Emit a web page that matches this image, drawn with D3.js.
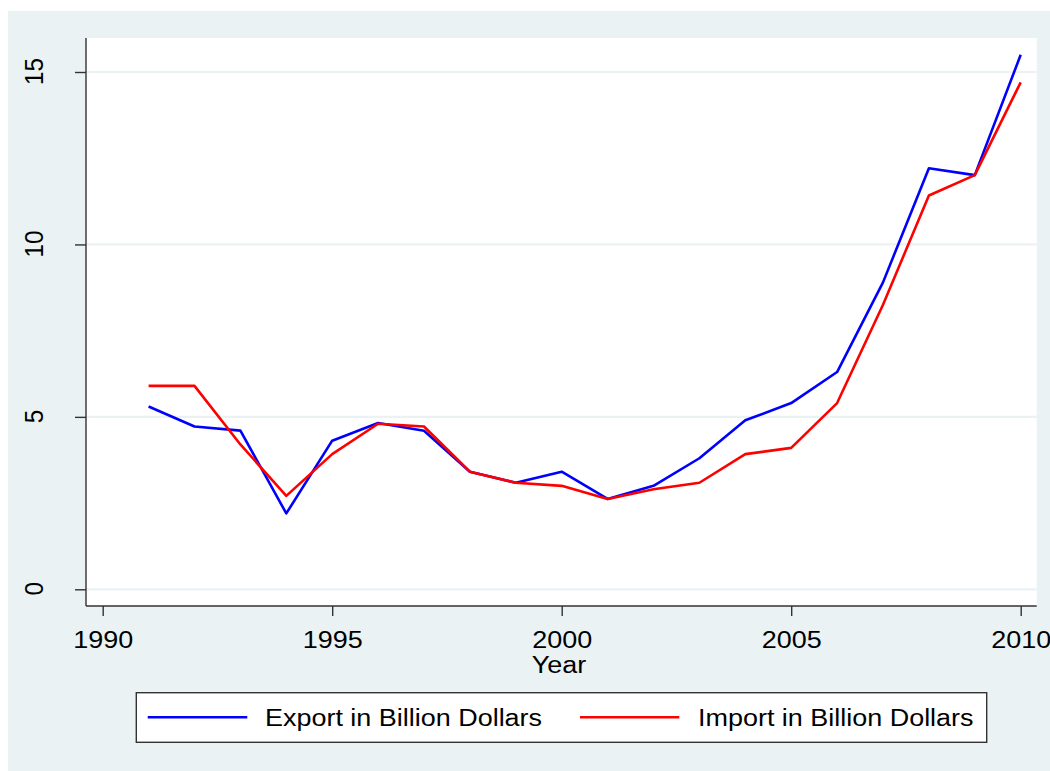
<!DOCTYPE html>
<html>
<head>
<meta charset="utf-8">
<script src="https://cdn.jsdelivr.net/npm/d3@7"></script>
<style>
  html, body { margin: 0; padding: 0; background: #ffffff; }
  svg { display: block; }
  text { font-family: "Liberation Sans", Arial, Helvetica, sans-serif; fill: #000; }
</style>
</head>
<body>
<svg id="chart" width="1050" height="771"></svg>
<script>
const years = [1991,1992,1993,1994,1995,1996,1997,1998,1999,2000,2001,2002,2003,2004,2005,2006,2007,2008,2009,2010];
const exportVals = [5.3,4.72,4.6,2.2,4.31,4.82,4.6,3.41,3.09,3.41,2.62,3.0,3.8,4.9,5.4,6.3,8.9,12.21,12.01,15.5];
const importVals = [5.9,5.9,4.2,2.71,3.92,4.8,4.72,3.41,3.09,3.0,2.62,2.9,3.09,3.92,4.1,5.4,8.25,11.42,12.01,14.7];
const xTicks = [1990,1995,2000,2005,2010];
const yTicks = [0,5,10,15];
const seriesNames = ["Export in Billion Dollars","Import in Billion Dollars"];
const seriesColors = ["#0000FF","#FF0000"];

const svg = d3.select("#chart");
const BG = "#EAF2F3";
const SX = 1.1;  // horizontal stretch to match reference glyph widths

// outer background
svg.append("rect").attr("x",8).attr("y",11).attr("width",1042).attr("height",760).attr("fill",BG);

const plot = {left:86, right:1036.7, top:38, bottom:606};
svg.append("rect").attr("x",plot.left).attr("y",plot.top)
  .attr("width",plot.right-plot.left).attr("height",plot.bottom-plot.top).attr("fill","#fff");

const x = d3.scaleLinear().domain([1990,2010]).range([102.7,1020.7]);
const y = d3.scaleLinear().domain([0,15]).range([589.3,72]);

// gridlines
svg.append("g").selectAll("line").data(yTicks).join("line")
  .attr("x1",plot.left).attr("x2",plot.right)
  .attr("y1",d=>y(d)).attr("y2",d=>y(d))
  .attr("stroke",BG).attr("stroke-width",2.2);

// y axis
const yAxis = svg.append("g").attr("transform",`translate(${plot.left},0)`)
  .call(d3.axisLeft(y).tickValues(yTicks).tickSize(11).tickSizeOuter(0).tickFormat(d3.format("d")));
yAxis.select(".domain").attr("d",`M0,${plot.top}V${plot.bottom}`).attr("stroke","#333").attr("stroke-width",1.4);
yAxis.selectAll(".tick line").attr("stroke","#333").attr("stroke-width",1.4);
yAxis.selectAll(".tick text")
  .attr("x",null).attr("dy",null)
  .attr("transform","translate(-43,-1) rotate(-90) scale(0.92,1)")
  .attr("text-anchor","middle")
  .attr("font-size",26.5)
  .attr("font-family","Liberation Sans, Arial, sans-serif");

// x axis
const xAxis = svg.append("g").attr("transform",`translate(0,${plot.bottom})`)
  .call(d3.axisBottom(x).tickValues(xTicks).tickSize(10).tickSizeOuter(0).tickFormat(d3.format("d")));
xAxis.select(".domain").attr("d",`M${plot.left},0H${plot.right}`).attr("stroke","#333").attr("stroke-width",1.4);
xAxis.selectAll(".tick line").attr("stroke","#333").attr("stroke-width",1.4);
xAxis.selectAll(".tick text")
  .attr("y",null).attr("dy",null)
  .attr("transform",`translate(0,42) scale(${SX},1)`)
  .attr("font-size",24.5)
  .attr("font-family","Liberation Sans, Arial, sans-serif");

// axis title
svg.append("text").attr("transform",`translate(559,673) scale(${SX},1)`).attr("text-anchor","middle")
  .attr("font-size",24.5).text("Year");

// lines
const line = d3.line().x((d,i)=>x(years[i])).y(d=>y(d));
[exportVals, importVals].forEach((vals,i)=>{
  svg.append("path").datum(vals).attr("d",line)
    .attr("fill","none").attr("stroke",seriesColors[i]).attr("stroke-width",2.6)
    .attr("stroke-linejoin","round");
});

// legend
svg.append("rect").attr("x",136.3).attr("y",692.7).attr("width",850.4).attr("height",49.6)
  .attr("fill","#fff").attr("stroke","#333").attr("stroke-width",1.4);
const legendItems = [{x1:147.7,x2:247.3,tx:265},{x1:580,x2:679.3,tx:698}];
legendItems.forEach((it,i)=>{
  svg.append("line").attr("x1",it.x1).attr("x2",it.x2).attr("y1",717.3).attr("y2",717.3)
    .attr("stroke",seriesColors[i]).attr("stroke-width",2.6);
  svg.append("text").attr("transform",`translate(${it.tx},726) scale(${SX},1)`)
    .attr("font-size",24.5).text(seriesNames[i]);
});
</script>
</body>
</html>
